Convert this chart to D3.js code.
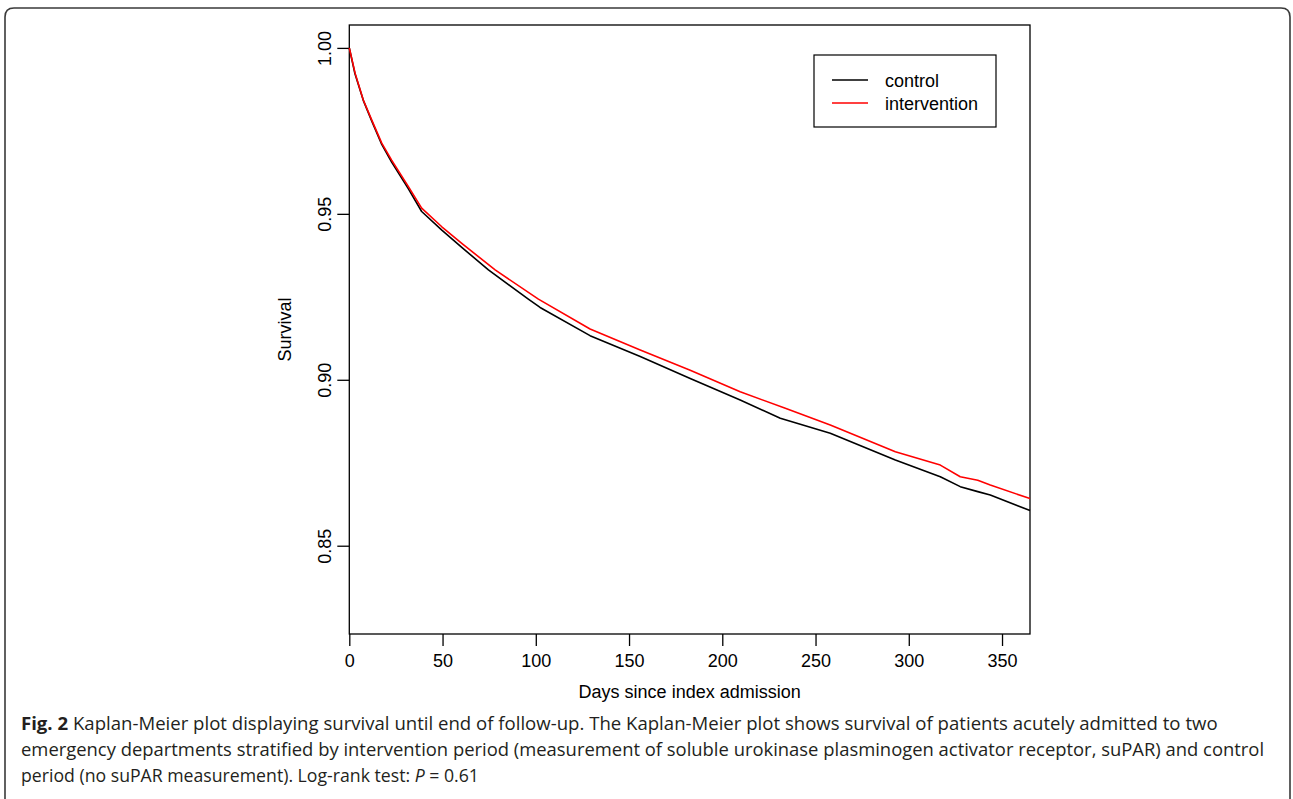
<!DOCTYPE html>
<html>
<head>
<meta charset="utf-8">
<script src="https://cdn.jsdelivr.net/npm/d3@7"></script>
<style>
  body { margin: 0; background: #fff; }
  svg { display: block; }
</style>
</head>
<body>
<script>
// data (days, survival)
var controlDays = [0, 3, 7.5, 12, 17.4, 22.7, 31.7, 38.8, 49.6, 60.3, 74.6, 96, 102.3, 129.1, 156, 182.8, 209.6, 231.1, 257.9, 292.8, 316.9, 327.6, 337, 343.7, 365];
var controlSurv = [1, 0.9923, 0.9842, 0.9780, 0.9709, 0.9656, 0.9575, 0.9507, 0.9451, 0.9399, 0.9331, 0.9243, 0.9218, 0.9133, 0.9070, 0.9004, 0.8939, 0.8884, 0.8839, 0.8758, 0.8708, 0.8678, 0.8663, 0.8653, 0.8606];

var interventionDays = [0, 3.1, 7.5, 12, 17.4, 22.7, 31.7, 38.8, 49.6, 60.3, 78.2, 101.4, 129.1, 156, 182.8, 209.6, 233.8, 257.9, 292.8, 316.9, 327.6, 337, 343.7, 365];
var interventionSurv = [1, 0.9924, 0.9843, 0.9783, 0.9713, 0.9662, 0.9582, 0.9517, 0.9461, 0.9411, 0.9331, 0.9243, 0.9153, 0.9090, 0.9029, 0.8964, 0.8914, 0.8864, 0.8783, 0.8743, 0.8708, 0.8697, 0.8683, 0.8642];

var xTicks = [0, 50, 100, 150, 200, 250, 300, 350];
var yTicks = [0.85, 0.90, 0.95, 1.00];
var seriesNames = ["control", "intervention"];
var seriesColors = ["#000000", "#ff0000"];

var captionLines = [
  [{t: "Fig. 2", b: true}, {t: " Kaplan-Meier plot displaying survival until end of follow-up. The Kaplan-Meier plot shows survival of patients acutely admitted to two"}],
  [{t: "emergency departments stratified by intervention period (measurement of soluble urokinase plasminogen activator receptor, suPAR) and control"}],
  [{t: "period (no suPAR measurement). Log-rank test: "}, {t: "P", i: true}, {t: " = 0.61"}]
];
var captionWidths = [1197, 1244, 437];

// plot box
var box = {left: 349.3, right: 1030, top: 25, bottom: 634};

var svg = d3.select("body").append("svg")
  .attr("width", 1293)
  .attr("height", 799);

// outer frame with rounded top corners
var r = 9;
svg.append("path")
  .attr("d", "M5,810 L5," + (8 + r) + " Q5,8 " + (5 + r) + ",8 L" + (1290 - r) + ",8 Q1290,8 1290," + (8 + r) + " L1290,810")
  .attr("fill", "none")
  .attr("stroke", "#3a3a3a")
  .attr("stroke-width", 1.6);

var xScale = d3.scaleLinear().domain([0, 365]).range([box.left, box.right]);
var yScale = d3.scaleLinear().domain([0.8234, 1.0069]).range([box.bottom, box.top]);

var font = "'Liberation Sans', Arial, Helvetica, sans-serif";

// x axis
var xAxis = d3.axisBottom(xScale).tickValues(xTicks).tickSize(12).tickSizeOuter(0).tickPadding(5)
  .tickFormat(d3.format("d"));
var gx = svg.append("g")
  .attr("transform", "translate(0," + box.bottom + ")")
  .call(xAxis);
gx.select(".domain").remove();
gx.selectAll("line").attr("stroke", "#000").attr("stroke-width", 1.3);
gx.selectAll("text").attr("font-family", font).attr("font-size", 18).attr("fill", "#000")
  .attr("dy", null).attr("y", 33);

// y axis
var yAxis = d3.axisLeft(yScale).tickValues(yTicks).tickSize(12).tickSizeOuter(0)
  .tickFormat(d3.format(".2f"));
var gy = svg.append("g")
  .attr("transform", "translate(" + box.left + ",0)")
  .call(yAxis);
gy.select(".domain").remove();
gy.selectAll("line").attr("stroke", "#000").attr("stroke-width", 1.3);
gy.selectAll("text")
  .attr("font-family", font).attr("font-size", 18).attr("fill", "#000")
  .attr("x", null).attr("dy", null)
  .attr("text-anchor", "middle")
  .attr("transform", "translate(-18,0) rotate(-90)");

// box around plot
svg.append("rect")
  .attr("x", box.left).attr("y", box.top)
  .attr("width", box.right - box.left).attr("height", box.bottom - box.top)
  .attr("fill", "none").attr("stroke", "#000").attr("stroke-width", 1.3);

// curves
var line = d3.line()
  .x(function(d) { return xScale(d[0]); })
  .y(function(d) { return yScale(d[1]); });

var series = [
  d3.zip(controlDays, controlSurv),
  d3.zip(interventionDays, interventionSurv)
];
series.forEach(function(s, i) {
  svg.append("path")
    .datum(s)
    .attr("d", line)
    .attr("fill", "none")
    .attr("stroke", seriesColors[i])
    .attr("stroke-width", 1.6)
    .attr("stroke-linejoin", "round");
});

// axis titles
svg.append("text")
  .attr("x", (box.left + box.right) / 2).attr("y", 698)
  .attr("text-anchor", "middle")
  .attr("font-family", font).attr("font-size", 18)
  .text("Days since index admission");
svg.append("text")
  .attr("transform", "translate(291," + (box.top + box.bottom) / 2 + ") rotate(-90)")
  .attr("text-anchor", "middle")
  .attr("font-family", font).attr("font-size", 18)
  .text("Survival");

// legend
var legend = svg.append("g");
legend.append("rect")
  .attr("x", 814).attr("y", 55).attr("width", 182).attr("height", 72)
  .attr("fill", "#fff").attr("stroke", "#000").attr("stroke-width", 1.2);
seriesNames.forEach(function(name, i) {
  var ly = 80 + i * 23;
  legend.append("line")
    .attr("x1", 832).attr("x2", 868).attr("y1", ly).attr("y2", ly)
    .attr("stroke", seriesColors[i]).attr("stroke-width", 1.3);
  legend.append("text")
    .attr("x", 885).attr("y", ly + 6.5)
    .attr("font-family", font).attr("font-size", 18)
    .text(name);
});

// caption, squeezed horizontally to the widths of the reference lines
var capY = [730, 756, 782];
var caps = captionLines.map(function(parts) {
  var g = svg.append("g");
  var t = g.append("text")
    .attr("x", 0).attr("y", 0)
    .attr("font-family", "'Open Sans', 'Noto Sans', sans-serif")
    .attr("font-size", 17.5)
    .attr("fill", "#231f20");
  parts.forEach(function(p) {
    t.append("tspan")
      .attr("font-weight", p.b ? "bold" : null)
      .attr("font-style", p.i ? "italic" : null)
      .text(p.t);
  });
  return {g: g, t: t};
});
var ks = caps.map(function(c, i) {
  return captionWidths[i] / c.t.node().getComputedTextLength();
});
ks[2] = (ks[2] + (ks[0] + ks[1]) / 2) / 2;
caps.forEach(function(c, i) {
  c.g.attr("transform", "translate(21," + capY[i] + ") scale(" + ks[i] + ",1)");
});
</script>
</body>
</html>
